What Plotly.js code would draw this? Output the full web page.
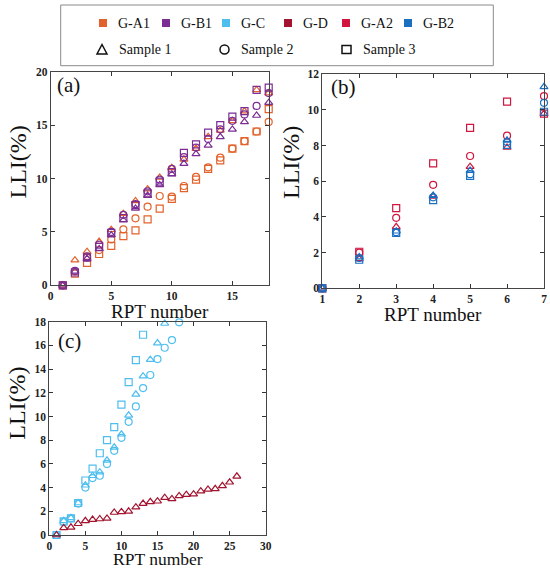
<!DOCTYPE html>
<html>
<head>
<meta charset="utf-8">
<script src="https://cdn.plot.ly/plotly-3.0.1.min.js"></script>
<style>html,body{margin:0;padding:0;background:#fff;}#chart{width:550px;height:569px;}</style>
</head>
<body>
<div id="chart"></div>
<script>
// ---------- data ----------
const rptA = [1,2,3,4,5,6,7,8,9,10,11,12,13,14,15,16,17,18];
const gA1_s1 = [0,2.35,3.15,4.1,5.2,6.7,7.9,9.0,10.1,11.0,11.8,12.8,13.9,14.5,15.4,16.3,18.3,18.0];
const gA1_s2 = [0,1.3,2.6,3.3,4.3,5.24,6.27,7.36,8.36,8.3,9.3,10.15,11.05,11.95,12.8,13.5,14.4,15.3];
const gA1_s3 = [0,1.1,2.1,2.93,3.7,4.6,5.15,6.18,7.17,8.1,9.1,9.9,10.9,11.7,12.8,13.5,14.4,16.5];
const gB1_s1 = [0,1.3,2.5,3.4,4.7,6.1,7.2,8.4,9.4,10.4,11.4,12.3,13.1,13.9,14.6,15.3,15.9,17.1];
const gB1_s2 = [0,1.35,2.7,3.8,5.0,6.6,7.6,8.8,9.9,10.9,12.0,12.9,13.7,14.6,15.4,16.0,16.8,18.0];
const gB1_s3 = [0,1.2,2.6,3.6,4.9,6.3,7.5,8.6,9.7,10.6,12.4,13.2,14.3,15.0,15.8,16.3,18.3,18.5];

const rptB = [1,2,3,4,5,6,7];
const gA2_s1 = [0,1.65,3.45,5.15,6.82,7.9,9.8];
const gA2_s2 = [0,2.0,3.95,5.8,7.42,8.56,10.78];
const gA2_s3 = [0,2.05,4.5,7.0,9.0,10.47,9.8];
const gB2_s1 = [0,1.75,3.2,5.2,6.6,8.3,11.3];
const gB2_s2 = [0,1.7,3.15,5.1,6.4,8.2,10.4];
const gB2_s3 = [0,1.6,3.1,4.95,6.3,8.04,9.9];

const rptC_s1 = [1,2,3,4,5,6,7,8,9,10,11,12,13,14,15,16];
const gC_s1 = [0,1.2,1.45,2.7,4.2,5.0,5.3,6.3,7.4,8.5,10.1,11.87,13.4,14.8,16.2,17.85];
const rptC_s2 = [1,2,3,4,5,6,7,8,9,10,11,12,13,14,15,16,17,18];
const gC_s2 = [0,1.1,1.4,2.65,4.0,4.8,5.0,6.0,7.1,8.2,9.55,10.85,12.4,13.5,14.85,15.8,16.45,17.95];
const rptC_s3 = [1,2,3,4,5,6,7,8,9,10,11,12,13];
const gC_s3 = [0,1.15,1.4,2.7,4.6,5.6,6.9,8.0,9.1,11.0,12.9,14.75,16.9];
const rptD = [1,2,3,4,5,6,7,8,9,10,11,12,13,14,15,16,17,18,19,20,21,22,23,24,25,26];
const gD_s1 = [0,0.6,0.65,0.95,1.2,1.3,1.35,1.4,1.9,1.95,2.0,2.35,2.65,2.8,2.85,3.15,3.05,3.3,3.4,3.45,3.7,3.85,3.9,4.15,4.45,4.95];

// tick values
const ticksAx = [0,5,10,15];
const ticksAy = [0,5,10,15,20];
const ticksBx = [1,2,3,4,5,6,7];
const ticksBy = [0,2,4,6,8,10,12];
const ticksCx = [0,5,10,15,20,25,30];
const ticksCy = [0,2,4,6,8,10,12,14,16,18];

const groupNames = ['G-A1','G-B1','G-C','G-D','G-A2','G-B2'];
const groupColors = ['#E2622B','#7B2D93','#4DBEEE','#A2142F','#D0163F','#1A6FC0'];
const sampleNames = ['Sample 1','Sample 2','Sample 3'];
const sampleSymbols = ['triangle-up-open','circle-open','square-open'];

// ---------- helpers ----------
const W = 550, H = 569;
const px = v => v / W;
const py = v => 1 - v / H;
const serif = 'Times New Roman, Liberation Serif, serif';

function tr(x, y, g, s, xa, ya) {
  return {
    x: x, y: y, xaxis: xa, yaxis: ya, type: 'scatter', mode: 'markers',
    name: groupNames[g] + ' ' + sampleNames[s], showlegend: false, cliponaxis: false,
    marker: {symbol: sampleSymbols[s], size: 7, color: groupColors[g], line: {width: 1.2, color: groupColors[g]}}
  };
}

const data = [
  tr(rptA, gA1_s3, 0, 2, 'x', 'y'),
  tr(rptA, gA1_s2, 0, 1, 'x', 'y'),
  tr(rptA, gA1_s1, 0, 0, 'x', 'y'),
  tr(rptA, gB1_s3, 1, 2, 'x', 'y'),
  tr(rptA, gB1_s2, 1, 1, 'x', 'y'),
  tr(rptA, gB1_s1, 1, 0, 'x', 'y'),
  tr(rptB, gA2_s3, 4, 2, 'x2', 'y2'),
  tr(rptB, gA2_s2, 4, 1, 'x2', 'y2'),
  tr(rptB, gA2_s1, 4, 0, 'x2', 'y2'),
  tr(rptB, gB2_s3, 5, 2, 'x2', 'y2'),
  tr(rptB, gB2_s2, 5, 1, 'x2', 'y2'),
  tr(rptB, gB2_s1, 5, 0, 'x2', 'y2'),
  tr(rptC_s3, gC_s3, 2, 2, 'x3', 'y3'),
  tr(rptC_s2, gC_s2, 2, 1, 'x3', 'y3'),
  tr(rptC_s1, gC_s1, 2, 0, 'x3', 'y3'),
  tr(rptD, gD_s1, 3, 0, 'x3', 'y3')
];

function ax(domain, range, tv, anchor) {
  return {
    domain: domain, range: range, anchor: anchor,
    tickmode: 'array', tickvals: tv, ticktext: tv.map(v => '<b>' + v + '</b>'),
    ticks: 'inside', ticklen: 4, tickwidth: 1, tickcolor: '#333',
    showline: true, linecolor: '#444', linewidth: 1, mirror: 'ticks',
    showgrid: false, zeroline: false, automargin: false,
    tickfont: {family: serif, size: 11.5, color: '#222'}
  };
}

const xa = ax([px(50.7), px(268.7)], [0, 18], ticksAx, 'y');
const ya = ax([py(285.3), py(71.7)], [0, 20], ticksAy, 'x');
const xb = ax([px(322.3), px(544)], [1, 7], ticksBx, 'y2');
const yb = ax([py(288.3), py(74.3)], [0, 12], ticksBy, 'x2');
const xc = ax([px(49.3), px(265.7)], [0, 30], ticksCx, 'y3');
const yc = ax([py(535), py(321.7)], [0, 18], ticksCy, 'x3');

const annotations = [];
function txt(t, x, y, size, opts) {
  annotations.push(Object.assign({
    text: t, x: px(x), y: py(y), xref: 'paper', yref: 'paper', showarrow: false,
    xanchor: 'center', yanchor: 'middle', font: {family: serif, size: size, color: '#111'}
  }, opts || {}));
}
// axis titles
txt('RPT number', 159.7, 311, 19);
txt('RPT number', 433, 314, 19);
txt('RPT number', 157.5, 558.5, 17.5, {borderpad: 0});
txt('LLI(%)', 17, 162.5, 24, {textangle: -90});
txt('LLI(%)', 290.5, 162.5, 24, {textangle: -90});
txt('LLI(%)', 16.7, 403, 24, {textangle: -90});
// panel labels
txt('(a)', 55, 85, 21, {xanchor: 'left'});
txt('(b)', 329, 87, 21, {xanchor: 'left'});
txt('(c)', 56, 341, 21, {xanchor: 'left'});

// legend
const shapes = [];
shapes.push({type: 'rect', xref: 'paper', yref: 'paper', x0: px(60.7), x1: px(493.3), y0: py(65.7), y1: py(5),
  line: {color: '#8a8a8a', width: 1}, fillcolor: 'rgba(0,0,0,0)'});
const legGX = [103, 166, 226, 288, 346, 408];
groupNames.forEach((n, i) => {
  const cx = legGX[i], cy = 23;
  shapes.push({type: 'rect', xref: 'paper', yref: 'paper', x0: px(cx - 4), x1: px(cx + 4), y0: py(cy + 4), y1: py(cy - 4),
    line: {width: 0}, fillcolor: groupColors[i]});
  txt(n, cx + 13, cy, 14, {xanchor: 'left'});
});
const legSX = [102, 224.5, 346.5];
const cy2 = 49.5;
shapes.push({type: 'path', xref: 'paper', yref: 'paper',
  path: `M ${px(97)} ${py(cy2 + 4.5)} L ${px(107)} ${py(cy2 + 4.5)} L ${px(102)} ${py(cy2 - 5)} Z`,
  line: {color: '#111', width: 1.5}});
shapes.push({type: 'circle', xref: 'paper', yref: 'paper', x0: px(220), x1: px(229), y0: py(cy2 + 4.5), y1: py(cy2 - 4.5),
  line: {color: '#111', width: 1.5}});
shapes.push({type: 'rect', xref: 'paper', yref: 'paper', x0: px(342), x1: px(351), y0: py(cy2 + 4), y1: py(cy2 - 4),
  line: {color: '#111', width: 1.5}});
sampleNames.forEach((n, i) => txt(n, legSX[i] + 14.5, cy2, 14, {xanchor: 'left'}));

const layout = {
  width: W, height: H, margin: {l: 0, r: 0, t: 0, b: 0}, paper_bgcolor: '#fff', plot_bgcolor: '#fff',
  showlegend: false, font: {family: serif},
  xaxis: xa, yaxis: ya, xaxis2: xb, yaxis2: yb, xaxis3: xc, yaxis3: yc,
  annotations: annotations, shapes: shapes
};

Plotly.newPlot('chart', data, layout, {displayModeBar: false, staticPlot: true});
</script>
</body>
</html>
